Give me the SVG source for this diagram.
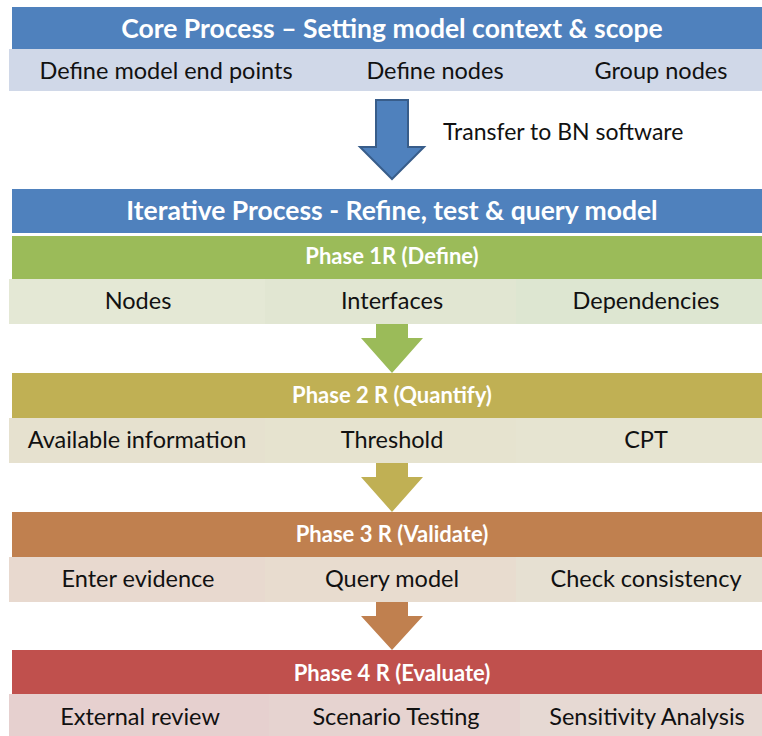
<svg xmlns="http://www.w3.org/2000/svg" width="762" height="736" viewBox="0 0 762 736">
<style>
.hd{font-family:Lato,"Open Sans","Liberation Sans",sans-serif;font-weight:bold;fill:#fff;text-anchor:middle}
.h1{font-size:26.5px}
.h2{font-size:22px}
.t{font-family:Lato,"Open Sans","Liberation Sans",sans-serif;font-size:23.5px;fill:#111;text-anchor:middle}
</style>
<rect width="762" height="736" fill="#fff"/>
<g id="core">
<rect x="12" y="7" width="750" height="42" fill="#4f81bd"/>
<rect x="9" y="49" width="753" height="42" fill="#d0d8e8"/>
<text class="hd h1" x="392" y="38">Core Process – Setting model context &amp; scope</text>
<text class="t" x="166" y="79">Define model end points</text>
<text class="t" x="435" y="79">Define nodes</text>
<text class="t" x="661" y="79">Group nodes</text>
</g>
<g id="transfer">
<path d="M376,100 H408 V147 H424 L392,179 L360,147 H376 Z" fill="#4f81bd" stroke="#385d8a" stroke-width="2"/>
<text class="t" x="443" y="140" style="text-anchor:start;font-size:23px">Transfer to BN software</text>
</g>
<g id="iterative">
<rect x="12" y="189" width="750" height="44" fill="#4f81bd"/>
<text class="hd h1" x="392" y="220">Iterative Process  - Refine, test &amp; query model</text>
</g>
<g id="phase1">
<rect x="12" y="236" width="750" height="43" fill="#9bbb59"/>
<rect x="9" y="279" width="256" height="45" fill="#e4e8d5"/>
<rect x="265" y="279" width="251" height="45" fill="#e1e6d2"/>
<rect x="516" y="279" width="246" height="45" fill="#dde6d1"/>
<text class="hd h2" x="392" y="264">Phase 1R (Define)</text>
<text class="t" x="138" y="309">Nodes</text>
<text class="t" x="392" y="309">Interfaces</text>
<text class="t" x="646" y="309">Dependencies</text>
</g>
<g id="phase2">
<rect x="12" y="373" width="750" height="45" fill="#c0b054"/>
<rect x="9" y="418" width="256" height="45" fill="#e6e1cf"/>
<rect x="265" y="418" width="251" height="45" fill="#e6e3cf"/>
<rect x="516" y="418" width="246" height="45" fill="#e6e4d1"/>
<text class="hd h2" x="392" y="403">Phase 2 R (Quantify)</text>
<text class="t" x="137" y="448">Available information</text>
<text class="t" x="392" y="448">Threshold</text>
<text class="t" x="646" y="448">CPT</text>
</g>
<g id="phase3">
<rect x="12" y="512" width="750" height="45" fill="#c0804f"/>
<rect x="9" y="557" width="256" height="45" fill="#e8d9cf"/>
<rect x="265" y="557" width="251" height="45" fill="#e8dccf"/>
<rect x="516" y="557" width="246" height="45" fill="#e6e0d2"/>
<text class="hd h2" x="392" y="542">Phase 3 R (Validate)</text>
<text class="t" x="138" y="587">Enter evidence</text>
<text class="t" x="392" y="587">Query model</text>
<text class="t" x="646" y="587">Check consistency</text>
</g>
<g id="phase4">
<rect x="12" y="650" width="750" height="44" fill="#c0504d"/>
<rect x="9" y="694" width="260" height="42" fill="#e6d0cf"/>
<rect x="269" y="694" width="251" height="42" fill="#e6d3d0"/>
<rect x="520" y="694" width="242" height="42" fill="#e6d9d3"/>
<text class="hd h2" x="392" y="681">Phase 4 R (Evaluate)</text>
<text class="t" x="140" y="725">External review</text>
<text class="t" x="396" y="725">Scenario Testing</text>
<text class="t" x="647" y="725">Sensitivity Analysis</text>
</g>
<g id="connectors">
<path d="M376,324 H408 V338 H423 L392,373 L361,338 H376 Z" fill="#9bbb59"/>
<path d="M376,463 H408 V477 H423 L392,512 L361,477 H376 Z" fill="#c0b054"/>
<path d="M376,602 H408 V616 H423 L392,650 L361,616 H376 Z" fill="#c0804f"/>
</g>
</svg>
